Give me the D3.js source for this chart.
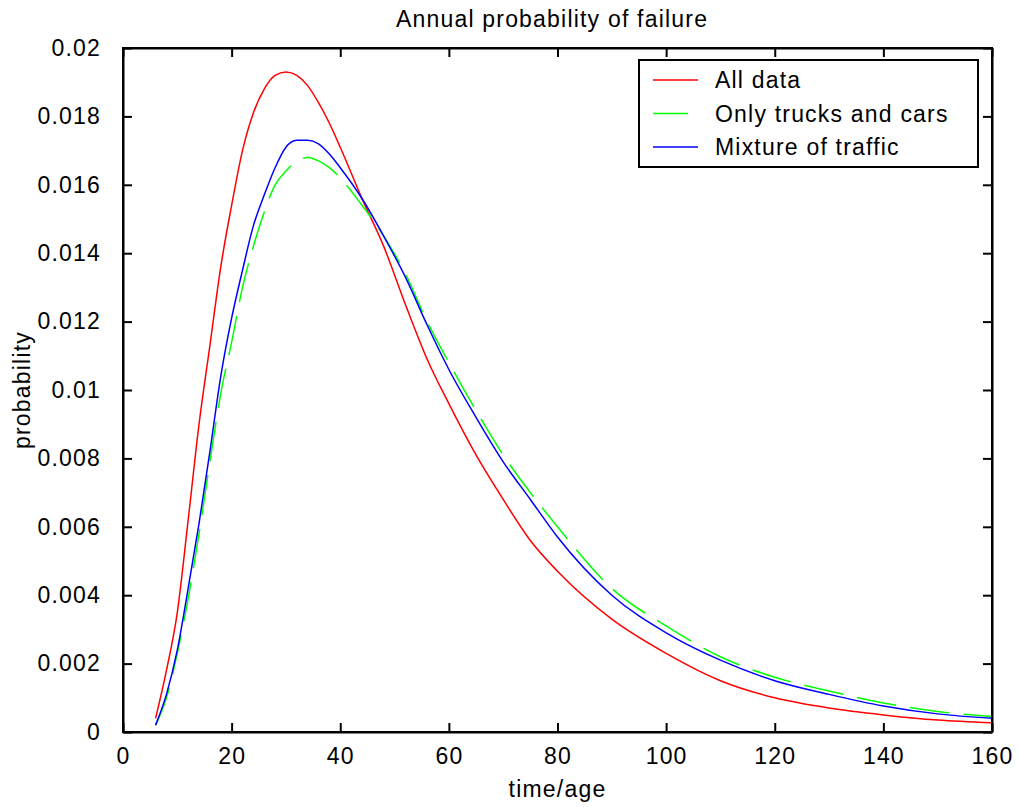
<!DOCTYPE html>
<html>
<head>
<meta charset="utf-8">
<script src="https://cdn.jsdelivr.net/npm/d3@7"></script>
<style>
  body { margin: 0; background: #fff; }
  svg text { font-family: "Liberation Sans", Arial, sans-serif; fill: #000; }
</style>
</head>
<body>
<div id="container"></div>
<script>
// ages (years) at which the curves were read
var ages = [6, 8, 10, 12, 14, 16, 18, 20, 22, 24, 26, 28, 30, 32, 34, 36, 38, 40,
            44, 48, 52, 56, 60, 65, 70, 75, 80, 90, 100, 110, 120, 130, 140, 150, 160];

var allData = [0.0004, 0.0018, 0.0035, 0.0062, 0.0090, 0.0113, 0.0136, 0.0154, 0.0170, 0.0181,
               0.0188, 0.0192, 0.0193, 0.0192, 0.0189, 0.0184, 0.0178, 0.0171,
               0.0156, 0.0142, 0.0125, 0.0109, 0.0096, 0.0081, 0.0068, 0.0056, 0.0047,
               0.0033, 0.0023, 0.0015, 0.0010, 0.0007, 0.0005, 0.00035, 0.00027];

var trucksCars = [0.0002, 0.0010, 0.0023, 0.0039, 0.0058, 0.0079, 0.0099, 0.0114, 0.0130, 0.0142,
                  0.0152, 0.0160, 0.0164, 0.0167, 0.0168, 0.0167, 0.0165, 0.0162,
                  0.0154, 0.0145, 0.0134, 0.0120, 0.0108, 0.0094, 0.0081, 0.0070, 0.0060,
                  0.0042, 0.0031, 0.0022, 0.0016, 0.0012, 0.00085, 0.00060, 0.00045];

var mixture = [0.0002, 0.0011, 0.0024, 0.0042, 0.0061, 0.0082, 0.0104, 0.0121, 0.0135, 0.0148,
               0.0157, 0.0165, 0.0171, 0.0173, 0.0173, 0.0172, 0.0169, 0.0165,
               0.0156, 0.0145, 0.0133, 0.0119, 0.0106, 0.0092, 0.0079, 0.0068, 0.0057,
               0.0040, 0.0029, 0.0021, 0.0015, 0.0011, 0.00076, 0.00053, 0.00040];

var seriesNames = ["All data", "Only trucks and cars", "Mixture of traffic"];
var seriesColors = ["#ff0000", "#00ff00", "#0000ff"];
var xTicks = [0, 20, 40, 60, 80, 100, 120, 140, 160];
var yTicks = [0, 0.002, 0.004, 0.006, 0.008, 0.01, 0.012, 0.014, 0.016, 0.018, 0.02];

var width = 1019, height = 807;
var margin = {top: 48, left: 123, right: 27, bottom: 75};
var w = width - margin.left - margin.right,
    h = height - margin.top - margin.bottom;

var svg = d3.select("#container").append("svg")
  .attr("width", width).attr("height", height);
svg.append("rect").attr("width", width).attr("height", height).attr("fill", "#fff");

var g = svg.append("g").attr("transform", "translate(" + margin.left + "," + margin.top + ")");

var x = d3.scaleLinear().domain([0, 160]).range([0, w]);
var y = d3.scaleLinear().domain([0, 0.02]).range([h, 0]);

var fontSize = "23px", spacing = "1.2px";

// curves
var series = [allData, trucksCars, mixture];
var line = d3.line()
  .x(function (d) { return x(d[0]); })
  .y(function (d) { return y(d[1]); })
  .curve(d3.curveMonotoneX);

series.forEach(function (vals, i) {
  g.append("path")
    .datum(ages.map(function (a, j) { return [a, vals[j]]; }))
    .attr("fill", "none")
    .attr("stroke", seriesColors[i])
    .attr("stroke-width", 1.5)
    .attr("stroke-dasharray", i === 1 ? "40,14" : null)
    .attr("d", line);
});

// axes with inward ticks on all four sides
var tickLen = 9;
var axBottom = g.append("g").attr("transform", "translate(0," + h + ")")
  .call(d3.axisBottom(x).tickValues(xTicks).tickSizeInner(-tickLen).tickSizeOuter(0).tickPadding(16)
    .tickFormat(d3.format("d")));
var axTop = g.append("g")
  .call(d3.axisTop(x).tickValues(xTicks).tickSizeInner(-tickLen).tickSizeOuter(0).tickFormat(""));
var axLeft = g.append("g")
  .call(d3.axisLeft(y).tickValues(yTicks).tickSizeInner(-tickLen).tickSizeOuter(0).tickPadding(22)
    .tickFormat(function (d) { return d === 0 ? "0" : d3.format("")(+d.toFixed(3)); }));
var axRight = g.append("g").attr("transform", "translate(" + w + ",0)")
  .call(d3.axisRight(y).tickValues(yTicks).tickSizeInner(-tickLen).tickSizeOuter(0).tickFormat(""));

[axBottom, axTop, axLeft, axRight].forEach(function (a) {
  a.select(".domain").attr("stroke", "#000").attr("stroke-width", 2);
  a.selectAll(".tick line").attr("stroke", "#000").attr("stroke-width", 2);
  a.selectAll(".tick text").attr("font-size", fontSize).style("letter-spacing", spacing)
    .attr("font-family", "Liberation Sans, Arial, sans-serif");
});

// frame
g.append("rect").attr("width", w).attr("height", h)
  .attr("fill", "none").attr("stroke", "#000").attr("stroke-width", 2);

// title and labels
svg.append("text").attr("x", 552).attr("y", 27)
  .attr("text-anchor", "middle").attr("font-size", fontSize).style("letter-spacing", spacing)
  .text("Annual probability of failure");
svg.append("text").attr("x", margin.left + w / 2).attr("y", 797)
  .attr("text-anchor", "middle").attr("font-size", fontSize).style("letter-spacing", spacing)
  .text("time/age");
svg.append("text")
  .attr("transform", "translate(30," + (margin.top + h / 2) + ") rotate(-90)")
  .attr("text-anchor", "middle").attr("font-size", fontSize).style("letter-spacing", spacing)
  .text("probability");

// legend
var lg = svg.append("g").attr("transform", "translate(639,60)");
lg.append("rect").attr("width", 339).attr("height", 107)
  .attr("fill", "#fff").attr("stroke", "#000").attr("stroke-width", 2);
seriesNames.forEach(function (name, i) {
  var ly = 20 + i * 33.5;
  lg.append("line").attr("x1", 14).attr("x2", i === 1 ? 49 : 59).attr("y1", ly).attr("y2", ly)
    .attr("stroke", seriesColors[i]).attr("stroke-width", 1.5);
  lg.append("text").attr("x", 76).attr("y", ly + 8)
    .attr("font-size", fontSize).style("letter-spacing", spacing).text(name);
});
</script>
</body>
</html>
